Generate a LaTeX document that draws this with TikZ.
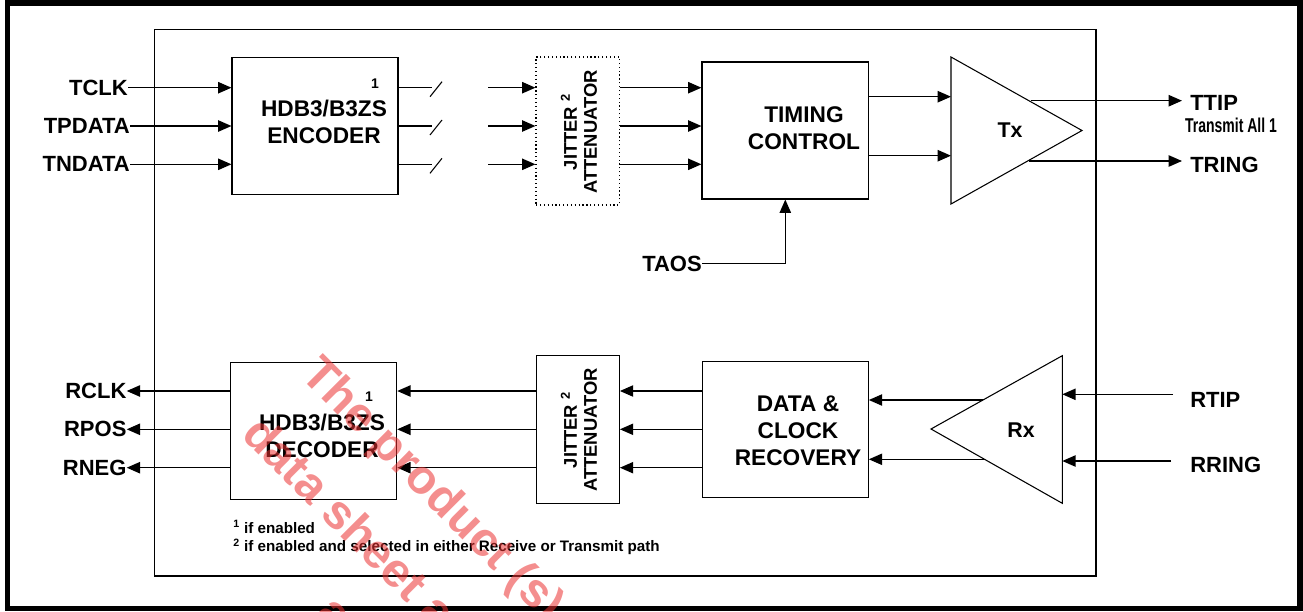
\documentclass[tikz,border=0pt]{standalone}
\usepackage{fontspec}
\setmainfont{Liberation Sans}
\usetikzlibrary{arrows.meta}
\definecolor{wmred}{RGB}{235,50,50}
\tikzset{
  arr/.style={line width=1pt,-{Triangle[length=10pt,width=8.5pt]}},
  wire/.style={line width=1pt},
  blockbox/.style={draw,line width=0.8pt,inner sep=0pt},
  pin/.style={inner sep=0pt,font=\fontsize{16.5}{19.8}\selectfont\bfseries},
  blocktxt/.style={inner sep=0pt,align=center,font=\fontsize{17}{20.3}\selectfont\bfseries},
  jittxt/.style={inner sep=0pt,align=center,rotate=90,font=\fontsize{13.8}{15}\selectfont\bfseries},
  ampTxt/.style={inner sep=0pt,font=\fontsize{16}{19}\selectfont\bfseries},
  supnum/.style={inner sep=0pt,font=\fontsize{10.5}{12}\selectfont\bfseries},
  foot/.style={inner sep=0pt,anchor=base west,font=\fontsize{11.4}{13.7}\selectfont\bfseries},
  wm/.style={inner sep=0pt,anchor=base west,rotate=-45,text=wmred,text opacity=0.55,font=\fontsize{36}{40}\selectfont\bfseries}
}
\begin{document}
\begin{tikzpicture}[x=0.75pt,y=-0.75pt]
\useasboundingbox (0,0) rectangle (1303,611);
% outer frame
\draw[line width=4.1pt] (7.5,3) rectangle (1300,608.5);
% chip frame
\draw[line width=0.8pt] (154.3,29.3) rectangle (1096,576);

% ---------------- transmit path ----------------
\node[blockbox,minimum width=124.5pt,minimum height=102.5pt] (enc) at (315,125.7) {};
\node[blocktxt] (enctxt) at (324,122) {HDB3/B3ZS\\ENCODER};
\node[supnum] (encsup) at (375,83.3) {1};

\node[draw,dotted,line width=0.9pt,inner sep=0pt,minimum width=62.5pt,minimum height=111pt] (jt) at (577.7,131) {};
\node[jittxt] (jttxt) at (579,132) {JITTER \textsuperscript{2}\\ATTENUATOR};

\node[blockbox,minimum width=125pt,minimum height=102.75pt] (tc) at (785.3,130.5) {};
\node[blocktxt] (tctxt) at (804,128.5) {TIMING\\CONTROL};

\coordinate (txA) at (951,57);
\coordinate (txB) at (951,204);
\coordinate (txC) at (1082,130.5);
\draw[line width=0.8pt] (txA) -- (txB) -- (txC) -- cycle;
\node[ampTxt] (txtxt) at (1010,130) {Tx};

\node[pin,anchor=east] (tclk) at (128,87.7) {TCLK};
\node[pin,anchor=east] (tpdata) at (130,126) {TPDATA};
\node[pin,anchor=east] (tndata) at (130,164.3) {TNDATA};

\foreach \p in {tclk,tpdata,tndata}{
  \draw[arr] (\p.east) -- (\p.east -| enc.west);
}
% encoder outputs with break marks
\foreach \p/\yy in {tclk/87.7,tpdata/126,tndata/164.3}{
  \coordinate (brk-\p) at (432,\yy);
  \coordinate (sa-\p) at (430,\yy+9);
  \coordinate (sb-\p) at (442,\yy-6);
  \coordinate (re-\p) at (488,\yy);
  \draw[wire] (enc.east |- brk-\p) -- (brk-\p);
  \draw[line width=0.8pt] (sa-\p) -- (sb-\p);
  \draw[arr] (re-\p) -- (re-\p -| jt.west);
  \draw[arr] (jt.east |- re-\p) -- (re-\p -| tc.west);
}
\coordinate (tin1) at (951,96.7);
\coordinate (tin2) at (951,155.7);
\draw[arr] (tc.east |- tin1) -- (tin1);
\draw[arr] (tc.east |- tin2) -- (tin2);

\coordinate (tout1) at (1031,100.7);
\coordinate (tout2) at (1029,161);
\coordinate (tend1) at (1182,100.7);
\coordinate (tend2) at (1182,161);
\draw[arr] (tout1) -- (tend1);
\draw[arr] (tout2) -- (tend2);
\node[pin,anchor=west] (ttip) at (1190,103) {TTIP};
\node[inner sep=0pt,font=\fontsize{15}{17}\selectfont\bfseries] (tall) at (1231,125) {\scalebox{0.7}[1]{Transmit All 1}};
\node[pin,anchor=west] (tring) at (1190,165) {TRING};

\node[pin,anchor=east] (taos) at (702,263.5) {TAOS};
\draw[arr] (taos.east) -| (tc.south);

% ---------------- receive path ----------------
\node[blockbox,minimum width=124.8pt,minimum height=102.5pt] (dec) at (313.5,430.7) {};
\node[blocktxt] (dectxt) at (322,436) {HDB3/B3ZS\\DECODER};
\node[supnum] (decsup) at (369,396.7) {1};

\node[blockbox,minimum width=62.5pt,minimum height=110.7pt] (jb) at (577.7,429.5) {};
\node[jittxt] (jbtxt) at (579,430) {JITTER \textsuperscript{2}\\ATTENUATOR};

\node[blockbox,minimum width=124.5pt,minimum height=102pt] (dcr) at (785.3,429.7) {};
\node[blocktxt] (dcrtxt) at (798,431) {DATA \&\\CLOCK\\RECOVERY};

\coordinate (rxA) at (1062.3,355.7);
\coordinate (rxB) at (1062.3,503.3);
\coordinate (rxC) at (931,429);
\draw[line width=0.8pt] (rxA) -- (rxB) -- (rxC) -- cycle;
\node[ampTxt] (rxtxt) at (1021,430) {Rx};

\node[pin,anchor=east] (rclk) at (126.7,391) {RCLK};
\node[pin,anchor=east] (rpos) at (126.7,429.3) {RPOS};
\node[pin,anchor=east] (rneg) at (126.7,467.7) {RNEG};
\foreach \p in {rclk,rpos,rneg}{
  \draw[arr] (dec.west |- \p.east) -- (\p.east);
  \draw[arr] (jb.west |- \p.east) -- (dec.east |- \p.east);
  \draw[arr] (dcr.west |- \p.east) -- (jb.east |- \p.east);
}
\coordinate (rout1) at (983,400);
\coordinate (rout2) at (984.5,459.3);
\draw[arr] (rout1) -- (rout1 -| dcr.east);
\draw[arr] (rout2) -- (rout2 -| dcr.east);

\coordinate (rin1) at (1062.3,394.3);
\coordinate (rin2) at (1062.3,461);
\coordinate (rs1) at (1173,394.3);
\coordinate (rs2) at (1171,461);
\draw[arr] (rs1) -- (rin1);
\draw[arr] (rs2) -- (rin2);
\node[pin,anchor=west] (rtip) at (1190,400) {RTIP};
\node[pin,anchor=west] (rring) at (1190,465) {RRING};

% footnotes
\node[foot] (fn1) at (233,533) {\textsuperscript{1} if enabled};
\node[foot] (fn2) at (233,551.7) {\textsuperscript{2} if enabled and selected in either Receive or Transmit path};

% watermark
\begin{scope}
\clip (0,0) rectangle (1303,611);
\node[wm] (wm1) at (299,376) {The product (s)};
\node[wm] (wm2) at (240,436) {data sheet a};
\node[wm] (wm3) at (314,615) {a};
\end{scope}
\end{tikzpicture}
\end{document}
